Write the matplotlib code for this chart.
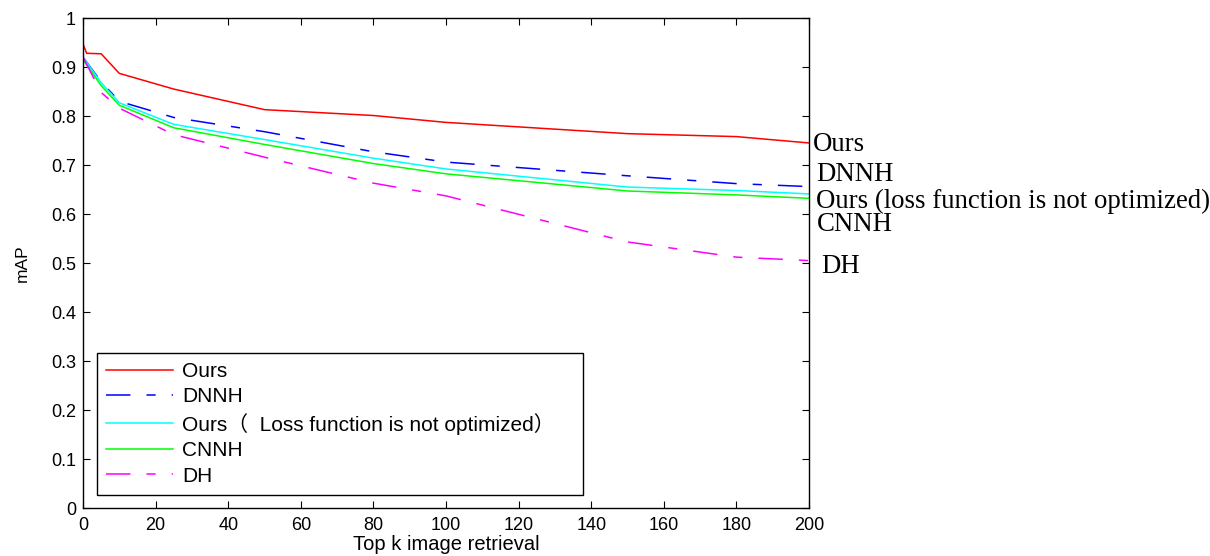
import matplotlib
matplotlib.use("Agg")
import matplotlib.pyplot as plt
from matplotlib.ticker import FormatStrFormatter

# top-k values and mAP per method
k_ours = [0, 1, 5, 10, 25, 50, 80, 100, 150, 180, 200]
map_ours = [0.947, 0.928, 0.927, 0.887, 0.855, 0.813, 0.801, 0.787, 0.764, 0.758, 0.745]

k_other = [0, 5, 10, 25, 50, 80, 100, 150, 180, 200]
map_dnnh = [0.920, 0.870, 0.830, 0.797, 0.768, 0.727, 0.706, 0.678, 0.662, 0.656]
map_ours_nopt = [0.920, 0.868, 0.827, 0.783, 0.752, 0.714, 0.692, 0.655, 0.648, 0.641]
map_cnnh = [0.915, 0.862, 0.822, 0.776, 0.742, 0.703, 0.682, 0.647, 0.639, 0.632]
map_dh = [0.920, 0.848, 0.816, 0.762, 0.716, 0.663, 0.637, 0.543, 0.512, 0.505]

legend_labels = ["Ours", "DNNH", "Ours\uff08  Loss function is not optimized\uff09", "CNNH", "DH"]
side_labels = ["Ours", "DNNH", "Ours (loss function is not optimized)", "CNNH", "DH"]
side_y = [0.741, 0.680, 0.625, 0.578, 0.492]
side_x = [201.0, 202.1, 201.8, 202.1, 203.5]

plt.rcParams["font.family"] = ["Liberation Sans", "Noto Sans CJK SC"]

fig = plt.figure(figsize=(12.1, 5.56), dpi=100)
ax = fig.add_axes([0.0686, 0.0863, 0.6, 0.8813])

dashdot = (0, (16, 10.5, 6, 10.5))
lw = 1.1
ax.plot(k_ours, map_ours, color="#ff0000", lw=lw, label=legend_labels[0])
ax.plot(k_other, map_dnnh, color="#0000ff", lw=lw, linestyle=dashdot, label=legend_labels[1])
ax.plot(k_other, map_ours_nopt, color="#00ffff", lw=lw, label=legend_labels[2])
ax.plot(k_other, map_cnnh, color="#00ff00", lw=lw, label=legend_labels[3])
ax.plot(k_other, map_dh, color="#ff00ff", lw=lw, linestyle=dashdot, label=legend_labels[4])

ax.set_xlim(0, 200)
ax.set_ylim(0, 1)
ax.set_xticks(range(0, 201, 20))
ax.set_yticks([i / 10 for i in range(11)])
ax.yaxis.set_major_formatter(FormatStrFormatter("%g"))
ax.tick_params(direction="in", top=True, right=True, length=5, labelsize=13)
ax.tick_params(axis="x", pad=6.5)
ax.tick_params(axis="y", pad=5)
for s in ax.spines.values():
    s.set_linewidth(1.0)

ax.set_xlabel("Top k image retrieval", fontsize=14.5, labelpad=1)
ax.set_ylabel("mAP", fontsize=12.5, labelpad=15)

leg = ax.legend(loc="lower left", bbox_to_anchor=(0.0193, 0.0265, 0.669, 0.2),
                mode="expand", fancybox=False, edgecolor="black", fontsize=15,
                handlelength=3.2, handletextpad=0.45, borderpad=0.45,
                labelspacing=0.31, borderaxespad=0, framealpha=1)
leg.get_frame().set_linewidth(1.0)

for x, y, t in zip(side_x, side_y, side_labels):
    ax.text(x, y, t, fontsize=19.3, family="Liberation Serif", va="center",
            ha="left", clip_on=False)

fig.savefig("out.png", dpi=100)
